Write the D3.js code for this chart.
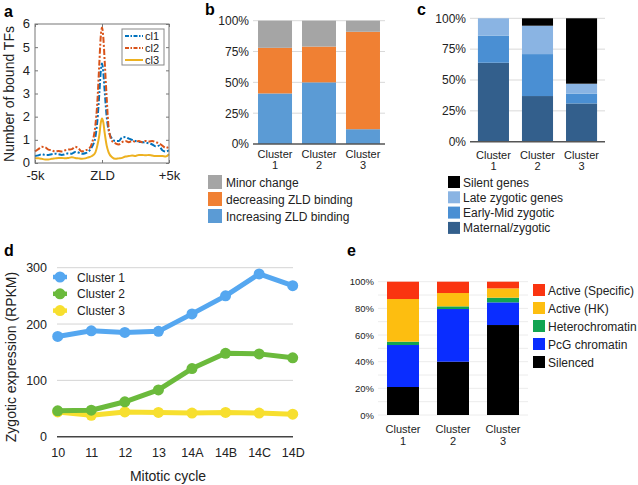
<!DOCTYPE html>
<html>
<head>
<meta charset="utf-8">
<script src="https://cdn.jsdelivr.net/npm/d3@7"></script>
<style>
  body { margin: 0; background: #fff; }
  svg { font-family: "Liberation Sans", Arial, Helvetica, sans-serif; }
</style>
</head>
<body>
<svg id="fig" width="638" height="485"></svg>
<script>
// ---------- data ----------
// panel a : TF profiles around ZLD peaks (kb)
const profilePos = [-5, -4.75, -4.5, -4.25, -4, -3.75, -3.5, -3.25, -3, -2.75, -2.5, -2.25, -2, -1.75, -1.5, -1.25, -1, -0.75, -0.5, -0.35, -0.2, -0.1, 0, 0.1, 0.2, 0.35, 0.5, 0.75, 1, 1.25, 1.5, 1.75, 2, 2.25, 2.5, 2.75, 3, 3.25, 3.5, 3.75, 4, 4.25, 4.5, 4.75, 5];
const profileCl1 = [0.3, 0.33, 0.38, 0.35, 0.35, 0.38, 0.4, 0.38, 0.35, 0.38, 0.42, 0.4, 0.48, 0.45, 0.4, 0.42, 0.5, 0.7, 1.1, 1.8, 3.0, 3.9, 4.3, 3.9, 3.1, 2.0, 1.4, 1.05, 0.95, 0.95, 1.1, 1.12, 1.05, 1.0, 0.95, 0.92, 0.9, 0.88, 0.85, 0.8, 0.72, 0.75, 0.55, 0.5, 0.55];
const profileCl2 = [0.5, 0.6, 0.7, 0.68, 0.58, 0.55, 0.5, 0.52, 0.5, 0.55, 0.58, 0.6, 0.7, 0.62, 0.5, 0.55, 0.6, 0.85, 1.6, 2.6, 4.3, 5.4, 5.85, 5.4, 4.4, 2.8, 1.5, 0.95, 0.85, 0.8, 0.9, 0.95, 0.9, 0.95, 0.92, 0.95, 0.9, 0.95, 0.93, 0.95, 0.9, 0.85, 0.75, 0.65, 0.7];
const profileCl3 = [0.2, 0.2, 0.18, 0.15, 0.15, 0.18, 0.2, 0.22, 0.22, 0.2, 0.22, 0.25, 0.22, 0.2, 0.18, 0.2, 0.25, 0.3, 0.45, 0.75, 1.2, 1.7, 1.92, 1.75, 1.3, 0.75, 0.45, 0.25, 0.18, 0.2, 0.22, 0.28, 0.3, 0.32, 0.3, 0.35, 0.35, 0.33, 0.35, 0.32, 0.3, 0.3, 0.3, 0.28, 0.38];

const clusters = ["Cluster 1", "Cluster 2", "Cluster 3"];

// panel b
const zldKeys = ["Increasing ZLD binding", "decreasing ZLD binding", "Minor change"];
const zldIncreasing = [41, 50, 12];
const zldDecreasing = [37, 29, 79];
const zldMinor = [22, 21, 9];

// panel c
const devKeys = ["Maternal/zygotic", "Early-Mid zygotic", "Late zygotic genes", "Silent genes"];
const devMaternal = [64, 37, 31];
const devEarlyMid = [22, 34, 8];
const devLate = [14, 23, 8];
const devSilent = [0, 6, 53];

// panel d
const cycles = ["10", "11", "12", "13", "14A", "14B", "14C", "14D"];
const exprCluster1 = [178, 188, 185, 187, 218, 250, 289, 268];
const exprCluster2 = [46, 47, 62, 83, 121, 148, 147, 140];
const exprCluster3 = [44, 38, 44, 43, 42, 43, 42, 40];

// panel e
const chromKeys = ["Silenced", "PcG chromatin", "Heterochromatin", "Active (HK)", "Active (Specific)"];
const chromSilenced = [21, 40, 67.5];
const chromPcG = [31.5, 39.5, 17];
const chromHetero = [2.5, 2, 3.5];
const chromHK = [32, 10, 7];
const chromSpecific = [13, 8.5, 5];

const svg = d3.select("#fig");
const ink = "#222";

// lettres des panneaux
[["a", 4, 17], ["b", 205, 15], ["c", 417, 15], ["d", 4, 256], ["e", 347, 256]].forEach(([t, x, y]) => {
  svg.append("text").attr("x", x).attr("y", y)
    .style("font-size", "16px").style("font-weight", "bold").attr("fill", "#000").text(t);
});

// ---------- panel a ----------
(function () {
  const g = svg.append("g");
  const x = d3.scaleLinear().domain([-5, 5]).range([35, 169]);
  const y = d3.scaleLinear().domain([0, 6]).range([163, 24]);

  const series = [
    { name: "cl1", vals: profileCl1, color: "#0072BD", dash: "6,2,2,2" },
    { name: "cl2", vals: profileCl2, color: "#D95319", dash: "6,2,2,2" },
    { name: "cl3", vals: profileCl3, color: "#EDB120", dash: null }
  ];

  const line = d3.line()
    .x((d, i) => x(profilePos[i]))
    .y(d => y(d))
    .curve(d3.curveMonotoneX);

  series.forEach(s => {
    g.append("path").datum(s.vals)
      .attr("d", line)
      .attr("fill", "none")
      .attr("stroke", s.color)
      .attr("stroke-width", 2)
      .attr("stroke-dasharray", s.dash);
  });

  // cadre + ticks vers l'intérieur
  g.append("rect").attr("x", 35).attr("y", 24).attr("width", 134).attr("height", 139)
    .attr("fill", "none").attr("stroke", "#777");

  const yl = g.append("g").attr("transform", "translate(35,0)")
    .call(d3.axisLeft(y).ticks(6).tickSize(-3).tickPadding(5));
  const yr = g.append("g").attr("transform", "translate(169,0)")
    .call(d3.axisRight(y).ticks(6).tickSize(-3).tickFormat(""));
  const xLab = { "-5": "-5k", "0": "ZLD", "5": "+5k" };
  const xb = g.append("g").attr("transform", "translate(0,163)")
    .call(d3.axisBottom(x).tickValues([-5, 0, 5]).tickSize(-3).tickPadding(8).tickFormat(d => xLab[d]));
  const xt = g.append("g").attr("transform", "translate(0,24)")
    .call(d3.axisTop(x).tickValues([-5, 0, 5]).tickSize(-3).tickFormat(""));
  [yl, yr, xb, xt].forEach(a => {
    a.select(".domain").remove();
    a.selectAll("line").attr("stroke", "#777");
    a.selectAll("text").attr("fill", ink).style("font-size", "13px").style("font-family", "inherit");
  });
  yl.selectAll("text").attr("dy", "0.3em");

  g.append("text")
    .attr("transform", "translate(14,94) rotate(-90)")
    .attr("text-anchor", "middle")
    .style("font-size", "14px").attr("fill", ink)
    .text("Number of bound TFs");

  // légende
  const lg = g.append("g");
  lg.append("rect").attr("x", 122).attr("y", 29).attr("width", 42).attr("height", 36)
    .attr("fill", "#fff").attr("stroke", "#888");
  series.forEach((s, i) => {
    const yy = 36 + i * 12;
    lg.append("line").attr("x1", 125).attr("x2", 143).attr("y1", yy).attr("y2", yy)
      .attr("stroke", s.color).attr("stroke-width", 2).attr("stroke-dasharray", s.dash ? "4,1.5,1.5,1.5" : null);
    lg.append("text").attr("x", 145).attr("y", yy + 4)
      .style("font-size", "11px").attr("fill", ink).text(s.name);
  });
})();

// ---------- helper barres empilées ----------
function stackedBars(o) {
  const g = svg.append("g");
  const rows = clusters.map((c, i) => {
    const r = { cluster: c };
    o.keys.forEach((k, j) => r[k] = o.values[j][i]);
    return r;
  });
  const stacked = d3.stack().keys(o.keys)(rows);

  const x = d3.scaleBand().domain(clusters).range(o.xRange)
    .paddingInner(o.padIn).paddingOuter(o.padOut);
  const y = d3.scaleLinear().domain([0, 100]).range(o.yRange);

  // grille
  g.append("g").selectAll("line").data(o.grid).enter().append("line")
    .attr("x1", o.xRange[0]).attr("x2", o.xRange[1])
    .attr("y1", d => y(d)).attr("y2", d => y(d))
    .attr("stroke", o.gridColor).attr("stroke-width", 1);

  g.append("g").selectAll("g").data(stacked).enter().append("g")
    .attr("fill", (d, i) => o.colors[i])
    .selectAll("rect").data(d => d).enter().append("rect")
    .attr("x", d => x(d.data.cluster))
    .attr("y", d => y(d[1]))
    .attr("width", x.bandwidth())
    .attr("height", d => y(d[0]) - y(d[1]));

  if (o.baseColor) {
    g.append("line").attr("x1", o.xRange[0]).attr("x2", o.xRange[1])
      .attr("y1", y(0)).attr("y2", y(0)).attr("stroke", o.baseColor).attr("stroke-width", 1.5);
  }

  const ya = g.append("g").attr("transform", `translate(${o.xRange[0] - 3},0)`)
    .call(d3.axisLeft(y).tickValues(o.ticks).tickSize(0).tickPadding(1).tickFormat(d => d + "%"));
  ya.select(".domain").remove();
  ya.selectAll("text").attr("fill", ink).style("font-size", o.tickSize).style("font-family", "inherit");

  // étiquettes des clusters sur deux lignes
  clusters.forEach(c => {
    const cx = x(c) + x.bandwidth() / 2;
    const parts = c.split(" ");
    parts.forEach((p, i) => {
      g.append("text").attr("x", cx).attr("y", o.labelY + i * o.labelGap)
        .attr("text-anchor", "middle").style("font-size", o.labelSize).attr("fill", ink).text(p);
    });
  });

  // légende
  o.legendOrder.forEach((k, i) => {
    const j = o.keys.indexOf(k);
    const yy = o.legend.y + i * o.legend.gap;
    g.append("rect").attr("x", o.legend.x).attr("y", yy - o.legend.size / 2)
      .attr("width", o.legend.size).attr("height", o.legend.size).attr("fill", o.colors[j]);
    g.append("text").attr("x", o.legend.x + o.legend.size + o.legend.pad).attr("y", yy + 4.5)
      .style("font-size", "12px").attr("fill", ink).text(k);
  });
}

// ---------- panel b ----------
stackedBars({
  keys: zldKeys,
  values: [zldIncreasing, zldDecreasing, zldMinor],
  colors: ["#5B9BD5", "#F08033", "#A5A5A5"],
  xRange: [253, 385], padIn: 0.227, padOut: 0.114,
  yRange: [144, 20.7],
  grid: [25, 50, 75, 100], gridColor: "#d9d9d9", baseColor: "#555",
  ticks: [0, 25, 50, 75, 100], tickSize: "12px",
  labelY: 158, labelGap: 11, labelSize: "11px",
  legendOrder: ["Minor change", "decreasing ZLD binding", "Increasing ZLD binding"],
  legend: { x: 208, y: 182, gap: 17, size: 14, pad: 4 }
});

// ---------- panel c ----------
stackedBars({
  keys: devKeys,
  values: [devMaternal, devEarlyMid, devLate, devSilent],
  colors: ["#335F8C", "#4A8FD3", "#8AB4E3", "#000000"],
  xRange: [470, 605], padIn: 0.295, padOut: 0.18,
  yRange: [141.7, 18.3],
  grid: [25, 50, 75, 100], gridColor: "#d9d9d9", baseColor: "#555",
  ticks: [0, 25, 50, 75, 100], tickSize: "12px",
  labelY: 159, labelGap: 11, labelSize: "11px",
  legendOrder: ["Silent genes", "Late zygotic genes", "Early-Mid zygotic", "Maternal/zygotic"],
  legend: { x: 448, y: 182, gap: 15.3, size: 12, pad: 3 }
});

// ---------- panel e ----------
stackedBars({
  keys: chromKeys,
  values: [chromSilenced, chromPcG, chromHetero, chromHK, chromSpecific],
  colors: ["#000000", "#0A2DFF", "#12A452", "#FDBE10", "#FA3410"],
  xRange: [378, 528], padIn: 0.36, padOut: 0.18,
  yRange: [415, 281.7],
  grid: d3.range(0, 101, 10), gridColor: "#ececec", baseColor: null,
  ticks: d3.range(0, 101, 20), tickSize: "9.5px",
  labelY: 433, labelGap: 12, labelSize: "11px",
  legendOrder: ["Active (Specific)", "Active (HK)", "Heterochromatin", "PcG chromatin", "Silenced"],
  legend: { x: 533, y: 290, gap: 18, size: 12, pad: 3 }
});

// ---------- panel d ----------
(function () {
  const g = svg.append("g");
  const x = d3.scalePoint().domain(cycles).range([57.7, 292.7]);
  const y = d3.scaleLinear().domain([0, 300]).range([436.7, 267.7]);

  g.append("g").selectAll("line").data([100, 200, 300]).enter().append("line")
    .attr("x1", 57).attr("x2", 293).attr("y1", d => y(d)).attr("y2", d => y(d))
    .attr("stroke", "#d4d4d4");
  g.append("line").attr("x1", 57).attr("x2", 293).attr("y1", y(0)).attr("y2", y(0))
    .attr("stroke", "#444").attr("stroke-width", 1.5);

  const ya = g.append("g").attr("transform", "translate(47,0)")
    .call(d3.axisLeft(y).tickValues([0, 100, 200, 300]).tickSize(0).tickPadding(0));
  const xa = g.append("g").attr("transform", "translate(0,440)")
    .call(d3.axisBottom(x).tickSize(0).tickPadding(8));
  [ya, xa].forEach(a => {
    a.select(".domain").remove();
    a.selectAll("text").attr("fill", ink).style("font-size", "12.5px").style("font-family", "inherit");
  });

  const series = [
    { name: "Cluster 1", vals: exprCluster1, color: "#55A7F0" },
    { name: "Cluster 2", vals: exprCluster2, color: "#6BBA3C" },
    { name: "Cluster 3", vals: exprCluster3, color: "#F7DF2F" }
  ];
  const line = d3.line().x((d, i) => x(cycles[i])).y(d => y(d));

  // cluster 3 en dessous, cluster 1 au-dessus
  series.slice().reverse().forEach(s => {
    g.append("path").datum(s.vals).attr("d", line)
      .attr("fill", "none").attr("stroke", s.color).attr("stroke-width", 5)
      .attr("stroke-linejoin", "round");
    g.append("g").selectAll("circle").data(s.vals).enter().append("circle")
      .attr("cx", (d, i) => x(cycles[i])).attr("cy", d => y(d)).attr("r", 5.5)
      .attr("fill", s.color);
  });

  series.forEach((s, i) => {
    const yy = 277 + i * 16.8;
    g.append("line").attr("x1", 53).attr("x2", 67).attr("y1", yy).attr("y2", yy)
      .attr("stroke", s.color).attr("stroke-width", 4.5);
    g.append("circle").attr("cx", 60).attr("cy", yy).attr("r", 5.5).attr("fill", s.color);
    g.append("text").attr("x", 77).attr("y", yy + 4.5).style("font-size", "12px")
      .attr("fill", ink).text(s.name);
  });

  g.append("text").attr("transform", "translate(16,357) rotate(-90)")
    .attr("text-anchor", "middle").style("font-size", "14px").attr("fill", ink)
    .text("Zygotic expression (RPKM)");
  g.append("text").attr("x", 168).attr("y", 481)
    .attr("text-anchor", "middle").style("font-size", "14px").attr("fill", ink)
    .text("Mitotic cycle");
})();
</script>
</body>
</html>
